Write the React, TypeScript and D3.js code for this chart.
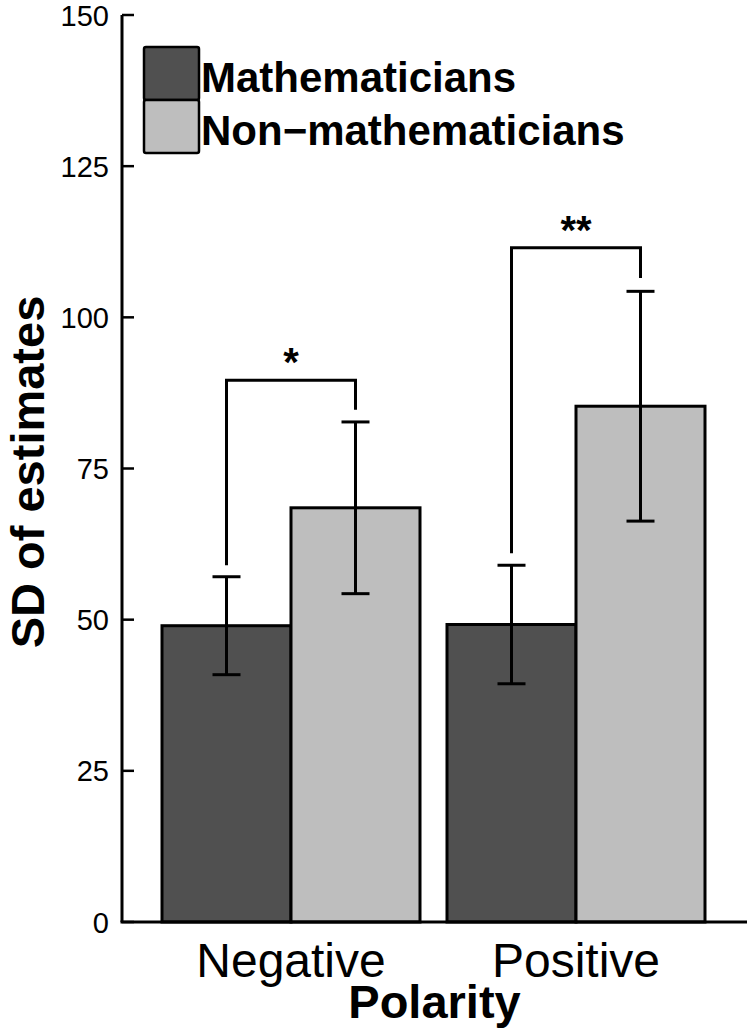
import React, { useRef, useEffect } from 'react';
import * as d3 from 'd3';

const categories = ['Negative', 'Positive'];
const groups = ['Mathematicians', 'Non\u2212mathematicians'];
const mathMeans = [49.0, 49.2];
const mathErrors = [8.1, 9.8];
const nonMathMeans = [68.5, 85.3];
const nonMathErrors = [14.2, 19.0];
// significance brackets: top of bracket, left leg end, right leg end
const bracketTops = [89.6, 111.5];
const bracketLeftEnds = [59.0, 61.0];
const bracketRightEnds = [84.7, 106.5];
const bracketLabels = ['*', '**'];
const yTicks = [0, 25, 50, 75, 100, 125, 150];

const colors = ['#505050', '#bebebe'];
const font = '"Liberation Sans", Arial, Helvetica, sans-serif';

const App: React.FC = () => {
  const svgRef = useRef<SVGSVGElement>(null);
  const width = 750;
  const height = 1028;

  useEffect(() => {
    if (!svgRef.current) return;
    const svg = d3.select(svgRef.current);
    svg.selectAll('*').remove();

    const axisX = 122;
    const axisRight = 747;
    const yScale = d3.scaleLinear().domain([0, 150]).range([922, 15]);

    const xScale = d3.scaleBand<string>()
      .domain(categories)
      .range([162, 705])
      .paddingInner(27 / 285);

    const xInner = d3.scaleBand<string>()
      .domain(groups)
      .range([0, xScale.bandwidth()])
      .padding(0);

    const data = categories.map((c, i) => ({
      category: c,
      series: [
        { group: groups[0], mean: mathMeans[i], err: mathErrors[i], color: colors[0] },
        { group: groups[1], mean: nonMathMeans[i], err: nonMathErrors[i], color: colors[1] },
      ],
    }));

    // Bars
    data.forEach(d => {
      const gx = xScale(d.category)!;
      d.series.forEach(s => {
        svg.append('rect')
          .attr('x', gx + xInner(s.group)!)
          .attr('y', yScale(s.mean))
          .attr('width', xInner.bandwidth())
          .attr('height', yScale(0) - yScale(s.mean))
          .attr('fill', s.color)
          .attr('stroke', '#000')
          .attr('stroke-width', 3);
      });
    });

    // Error bars
    const capHalf = 14;
    data.forEach(d => {
      const gx = xScale(d.category)!;
      d.series.forEach(s => {
        const cx = gx + xInner(s.group)! + xInner.bandwidth() / 2;
        const lo = yScale(s.mean - s.err);
        const hi = yScale(s.mean + s.err);
        svg.append('line')
          .attr('x1', cx).attr('x2', cx)
          .attr('y1', lo).attr('y2', hi)
          .attr('stroke', '#000').attr('stroke-width', 3);
        [lo, hi].forEach(yv => {
          svg.append('line')
            .attr('x1', cx - capHalf).attr('x2', cx + capHalf)
            .attr('y1', yv).attr('y2', yv)
            .attr('stroke', '#000').attr('stroke-width', 3);
        });
      });
    });

    // Significance brackets
    categories.forEach((c, i) => {
      const gx = xScale(c)!;
      const x1 = gx + xInner(groups[0])! + xInner.bandwidth() / 2;
      const x2 = gx + xInner(groups[1])! + xInner.bandwidth() / 2;
      const top = yScale(bracketTops[i]);
      svg.append('path')
        .attr('d', `M${x1},${yScale(bracketLeftEnds[i])}V${top}H${x2}V${yScale(bracketRightEnds[i])}`)
        .attr('fill', 'none')
        .attr('stroke', '#000')
        .attr('stroke-width', 3);
      svg.append('text')
        .attr('x', (x1 + x2) / 2)
        .attr('y', top - 4)
        .attr('text-anchor', 'middle')
        .attr('font-family', font)
        .attr('font-size', '40px')
        .attr('font-weight', 700)
        .attr('fill', '#000')
        .text(bracketLabels[i]);
    });

    // Axes
    svg.append('line')
      .attr('x1', axisX).attr('x2', axisX)
      .attr('y1', yScale(0)).attr('y2', yScale(150))
      .attr('stroke', '#000').attr('stroke-width', 3);
    svg.append('line')
      .attr('x1', axisX - 1.5).attr('x2', axisRight)
      .attr('y1', yScale(0)).attr('y2', yScale(0))
      .attr('stroke', '#000').attr('stroke-width', 3);

    yTicks.forEach(t => {
      svg.append('line')
        .attr('x1', axisX).attr('x2', axisX + 12)
        .attr('y1', yScale(t)).attr('y2', yScale(t))
        .attr('stroke', '#000').attr('stroke-width', 2.5);
      svg.append('text')
        .attr('x', 109)
        .attr('y', yScale(t) + 10.5)
        .attr('text-anchor', 'end')
        .attr('font-family', font)
        .attr('font-size', '29px')
        .attr('fill', '#000')
        .text(t);
    });

    categories.forEach(c => {
      svg.append('text')
        .attr('x', xScale(c)! + xScale.bandwidth() / 2)
        .attr('y', 977)
        .attr('text-anchor', 'middle')
        .attr('font-family', font)
        .attr('font-size', '48px')
        .attr('fill', '#000')
        .text(c);
    });

    svg.append('text')
      .attr('x', (axisX + axisRight) / 2)
      .attr('y', 1018)
      .attr('text-anchor', 'middle')
      .attr('font-family', font)
      .attr('font-size', '47px')
      .attr('font-weight', 700)
      .attr('fill', '#000')
      .text('Polarity');

    svg.append('text')
      .attr('transform', `translate(44,${472}) rotate(-90)`)
      .attr('text-anchor', 'middle')
      .attr('font-family', font)
      .attr('font-size', '47px')
      .attr('font-weight', 700)
      .attr('fill', '#000')
      .text('SD of estimates');

    // Legend
    const legend = svg.append('g').attr('transform', 'translate(144,47)');
    groups.forEach((g, i) => {
      legend.append('rect')
        .attr('x', 0)
        .attr('y', i * 53)
        .attr('width', 55)
        .attr('height', 53)
        .attr('rx', 2)
        .attr('fill', colors[i])
        .attr('stroke', '#000')
        .attr('stroke-width', 2.5);
      legend.append('text')
        .attr('x', 57)
        .attr('y', i * 53 + 44.5)
        .attr('font-family', font)
        .attr('font-size', '42px')
        .attr('font-weight', 700)
        .attr('fill', '#000')
        .text(g);
    });
  }, []);

  return (
    <svg
      ref={svgRef}
      width={width}
      height={height}
      style={{ position: 'absolute', left: 0, top: 0, background: '#fff' }}
    />
  );
};

export default App;
